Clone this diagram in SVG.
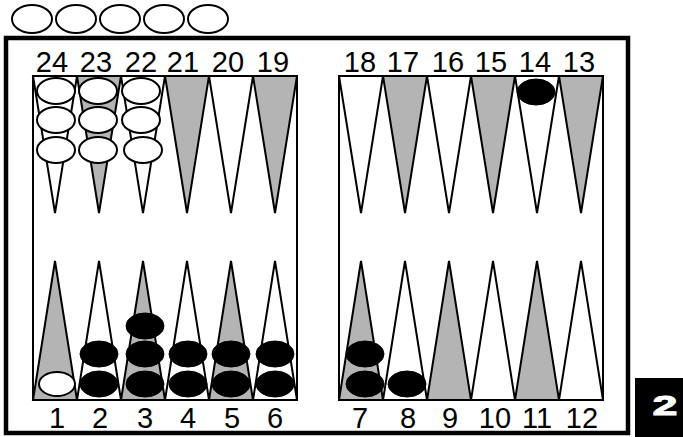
<svg xmlns="http://www.w3.org/2000/svg" width="683" height="437" viewBox="0 0 683 437">
<style>
.frame{fill:none;stroke:#000;stroke-width:4.5}
.board{fill:#fff;stroke:#000;stroke-width:2}
.pt{fill:#fff;stroke:#000;stroke-width:2;stroke-linejoin:miter}
.sh{fill:#b4b4b4}
.wc{fill:#fff;stroke:#000;stroke-width:2}
.bc{fill:#000;stroke:#000;stroke-width:1}
.num{font-family:"Liberation Sans",Arial,sans-serif;font-size:29px;fill:#000;text-anchor:middle}
.spare{fill:#fff;stroke:#000;stroke-width:2}
</style>
<rect width="683" height="437" fill="#fff"/>
<g id="spare-checkers">
<ellipse class="spare" cx="32" cy="19" rx="20" ry="14"/>
<ellipse class="spare" cx="76" cy="19" rx="20" ry="14"/>
<ellipse class="spare" cx="120" cy="19" rx="20" ry="14"/>
<ellipse class="spare" cx="164" cy="19" rx="20" ry="14"/>
<ellipse class="spare" cx="208" cy="19" rx="20" ry="14"/>
</g>
<rect id="frame" class="frame" x="6" y="38" width="622" height="395"/>
<rect id="left-board" class="board" x="33" y="76" width="264" height="324"/>
<rect id="right-board" class="board" x="339" y="76" width="264" height="324"/>
<g id="points">
<polygon id="p24" class="pt" points="33,76 77,76 55,213"/>
<polygon id="p23" class="pt sh" points="77,76 121,76 99,213"/>
<polygon id="p22" class="pt" points="121,76 165,76 143,213"/>
<polygon id="p21" class="pt sh" points="165,76 209,76 187,213"/>
<polygon id="p20" class="pt" points="209,76 253,76 231,213"/>
<polygon id="p19" class="pt sh" points="253,76 297,76 275,213"/>
<polygon id="p18" class="pt" points="339,76 383,76 361,213"/>
<polygon id="p17" class="pt sh" points="383,76 427,76 405,213"/>
<polygon id="p16" class="pt" points="427,76 471,76 449,213"/>
<polygon id="p15" class="pt sh" points="471,76 515,76 493,213"/>
<polygon id="p14" class="pt" points="515,76 559,76 537,213"/>
<polygon id="p13" class="pt sh" points="559,76 603,76 581,213"/>
<polygon id="p1" class="pt sh" points="33,400 77,400 55,261"/>
<polygon id="p2" class="pt" points="77,400 121,400 99,261"/>
<polygon id="p3" class="pt sh" points="121,400 165,400 143,261"/>
<polygon id="p4" class="pt" points="165,400 209,400 187,261"/>
<polygon id="p5" class="pt sh" points="209,400 253,400 231,261"/>
<polygon id="p6" class="pt" points="253,400 297,400 275,261"/>
<polygon id="p7" class="pt sh" points="339,400 383,400 361,261"/>
<polygon id="p8" class="pt" points="383,400 427,400 405,261"/>
<polygon id="p9" class="pt sh" points="427,400 471,400 449,261"/>
<polygon id="p10" class="pt" points="471,400 515,400 493,261"/>
<polygon id="p11" class="pt sh" points="515,400 559,400 537,261"/>
<polygon id="p12" class="pt" points="559,400 603,400 581,261"/>
</g>
<g id="white-checkers">
<ellipse class="wc" cx="56" cy="91" rx="19" ry="13"/>
<ellipse class="wc" cx="56" cy="120" rx="19" ry="13"/>
<ellipse class="wc" cx="56" cy="150" rx="19" ry="13"/>
<ellipse class="wc" cx="98" cy="91" rx="19" ry="13"/>
<ellipse class="wc" cx="98" cy="120" rx="19" ry="13"/>
<ellipse class="wc" cx="98" cy="150" rx="19" ry="13"/>
<ellipse class="wc" cx="141" cy="91" rx="19" ry="13"/>
<ellipse class="wc" cx="141" cy="120" rx="19" ry="13"/>
<ellipse class="wc" cx="143" cy="150" rx="19" ry="13"/>
<ellipse class="wc" cx="57" cy="384" rx="18" ry="12"/>
</g>
<g id="black-checkers">
<ellipse class="bc" cx="99" cy="354" rx="19" ry="13"/>
<ellipse class="bc" cx="99" cy="384" rx="19" ry="13"/>
<ellipse class="bc" cx="145" cy="326" rx="19" ry="13"/>
<ellipse class="bc" cx="145" cy="354" rx="19" ry="13"/>
<ellipse class="bc" cx="145" cy="384" rx="19" ry="13"/>
<ellipse class="bc" cx="188" cy="354" rx="19" ry="13"/>
<ellipse class="bc" cx="188" cy="384" rx="19" ry="13"/>
<ellipse class="bc" cx="231" cy="354" rx="19" ry="13"/>
<ellipse class="bc" cx="231" cy="384" rx="19" ry="13"/>
<ellipse class="bc" cx="275" cy="354" rx="19" ry="13"/>
<ellipse class="bc" cx="275" cy="384" rx="19" ry="13"/>
<ellipse class="bc" cx="365" cy="354" rx="19" ry="13"/>
<ellipse class="bc" cx="365" cy="384" rx="19" ry="13"/>
<ellipse class="bc" cx="407" cy="384" rx="19" ry="13"/>
<ellipse class="bc" cx="536" cy="92" rx="19" ry="13"/>
</g>
<g id="top-labels">
<text class="num" x="52" y="72">24</text>
<text class="num" x="96" y="72">23</text>
<text class="num" x="141" y="72">22</text>
<text class="num" x="183" y="72">21</text>
<text class="num" x="228" y="72">20</text>
<text class="num" x="273" y="72">19</text>
<text class="num" x="360" y="72">18</text>
<text class="num" x="403" y="72">17</text>
<text class="num" x="448" y="72">16</text>
<text class="num" x="491" y="72">15</text>
<text class="num" x="535" y="72">14</text>
<text class="num" x="579" y="72">13</text>
</g>
<g id="bottom-labels">
<text class="num" x="57" y="428">1</text>
<text class="num" x="100" y="428">2</text>
<text class="num" x="145" y="428">3</text>
<text class="num" x="188" y="428">4</text>
<text class="num" x="232" y="428">5</text>
<text class="num" x="275" y="428">6</text>
<text class="num" x="360" y="428">7</text>
<text class="num" x="408" y="428">8</text>
<text class="num" x="450" y="428">9</text>
<text class="num" x="495" y="428">10</text>
<text class="num" x="537" y="428">11</text>
<text class="num" x="582" y="428">12</text>
</g>
<g id="badge">
<rect x="635" y="378" width="48" height="59" fill="#000"/>
<text x="0" y="0" transform="translate(665,415) scale(1.6,1)" font-family="'Liberation Sans',Arial,sans-serif" font-weight="bold" font-size="28" fill="#fff" stroke="#fff" stroke-width="1" text-anchor="middle">2</text>
</g>
</svg>
